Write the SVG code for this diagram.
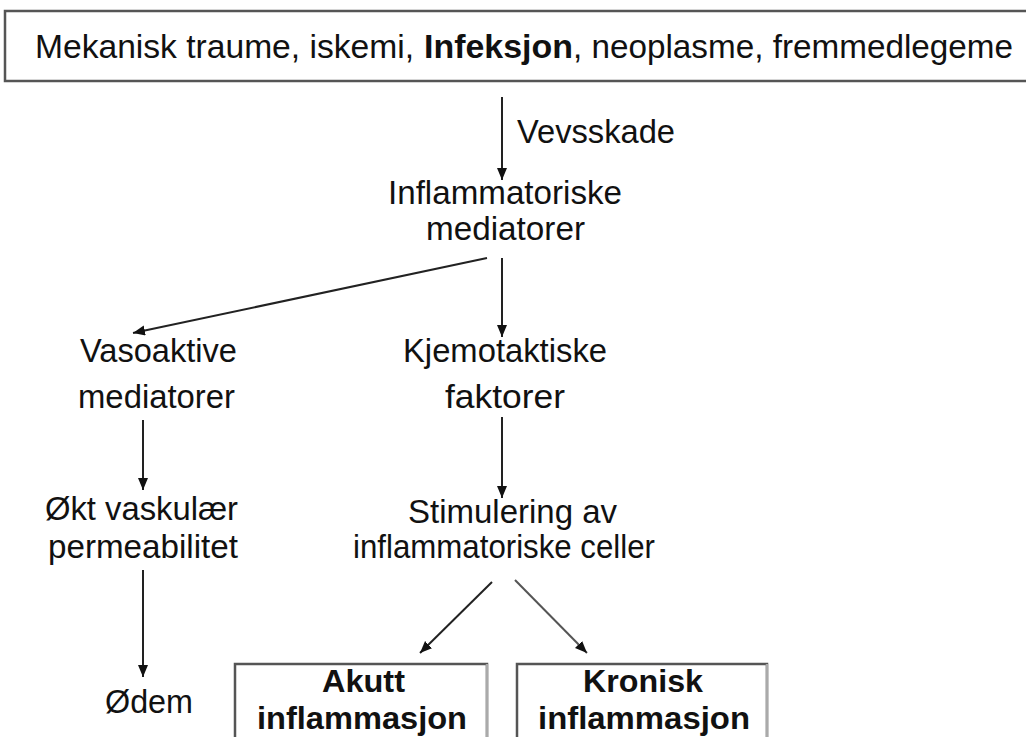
<svg xmlns="http://www.w3.org/2000/svg" width="1026" height="737" viewBox="0 0 1026 737">
<style>
.t{font-family:"Liberation Sans",Arial,sans-serif;font-size:33px;fill:#111}
.b{font-weight:bold}
.bx{font-size:32px}
.box{fill:#fff;stroke:#555;stroke-width:2.5}
.rb{stroke:#aaa;stroke-width:2.5}
.c line{stroke:#222;stroke-width:2}
</style>
<defs>
<marker id="ah" markerUnits="userSpaceOnUse" markerWidth="13" markerHeight="11" refX="12" refY="5" orient="auto">
<path d="M0,0 L12,5 L0,10 z" fill="#111"/>
</marker>
</defs>
<rect width="1026" height="737" fill="#fff"/>
<g id="causes">
<rect class="box" x="5" y="11" width="1030" height="70"/>
<text class="t" x="35" y="58" textLength="379" lengthAdjust="spacingAndGlyphs">Mekanisk traume, iskemi,</text>
<text class="t b" x="424" y="58" textLength="149" lengthAdjust="spacingAndGlyphs">Infeksjon</text>
<text class="t" x="573" y="58" textLength="440" lengthAdjust="spacingAndGlyphs">, neoplasme, fremmedlegeme</text>
</g>
<g id="label-vevsskade"><text class="t" x="517" y="143" textLength="158" lengthAdjust="spacingAndGlyphs">Vevsskade</text></g>
<g id="inflammatoriske-mediatorer">
<text class="t" x="388" y="204" textLength="234" lengthAdjust="spacingAndGlyphs">Inflammatoriske</text>
<text class="t" x="426" y="240" textLength="159" lengthAdjust="spacingAndGlyphs">mediatorer</text>
</g>
<g id="vasoaktive">
<text class="t" x="80" y="362" textLength="157" lengthAdjust="spacingAndGlyphs">Vasoaktive</text>
<text class="t" x="78" y="408" textLength="157" lengthAdjust="spacingAndGlyphs">mediatorer</text>
</g>
<g id="kjemotaktiske">
<text class="t" x="403" y="362" textLength="204" lengthAdjust="spacingAndGlyphs">Kjemotaktiske</text>
<text class="t" x="445" y="408" textLength="120" lengthAdjust="spacingAndGlyphs">faktorer</text>
</g>
<g id="permeabilitet">
<text class="t" x="45" y="520" textLength="193" lengthAdjust="spacingAndGlyphs">Økt vaskulær</text>
<text class="t" x="48" y="558" textLength="190" lengthAdjust="spacingAndGlyphs">permeabilitet</text>
</g>
<g id="odem"><text class="t" x="105" y="713" textLength="88" lengthAdjust="spacingAndGlyphs">Ødem</text></g>
<g id="stimulering">
<text class="t" x="408" y="523" textLength="209" lengthAdjust="spacingAndGlyphs">Stimulering av</text>
<text class="t" x="353" y="558" textLength="302" lengthAdjust="spacingAndGlyphs">inflammatoriske celler</text>
</g>
<g id="akutt">
<rect class="box" x="235" y="664" width="252" height="90"/>
<line class="rb" x1="487" y1="664" x2="487" y2="737"/>
<text class="t b bx" x="322" y="692" textLength="83" lengthAdjust="spacingAndGlyphs">Akutt</text>
<text class="t b bx" x="257" y="729" textLength="210" lengthAdjust="spacingAndGlyphs">inflammasjon</text>
</g>
<g id="kronisk">
<rect class="box" x="517" y="664" width="250" height="90"/>
<line class="rb" x1="767" y1="664" x2="767" y2="737"/>
<text class="t b bx" x="583" y="692" textLength="120" lengthAdjust="spacingAndGlyphs">Kronisk</text>
<text class="t b bx" x="538" y="729" textLength="212" lengthAdjust="spacingAndGlyphs">inflammasjon</text>
</g>
<g id="connectors" class="c">
<line x1="502" y1="97" x2="502" y2="180" marker-end="url(#ah)"/>
<line x1="487" y1="258" x2="133" y2="333" marker-end="url(#ah)"/>
<line x1="502" y1="258" x2="502" y2="337" marker-end="url(#ah)"/>
<line x1="143" y1="420" x2="143" y2="490" marker-end="url(#ah)"/>
<line x1="143" y1="570" x2="143" y2="677" marker-end="url(#ah)"/>
<line x1="502" y1="417" x2="502" y2="498" marker-end="url(#ah)"/>
<line x1="492" y1="582" x2="420" y2="653" marker-end="url(#ah)"/>
<line x1="515" y1="580" x2="587" y2="653" marker-end="url(#ah)" style="stroke:#555"/>
</g>
</svg>
